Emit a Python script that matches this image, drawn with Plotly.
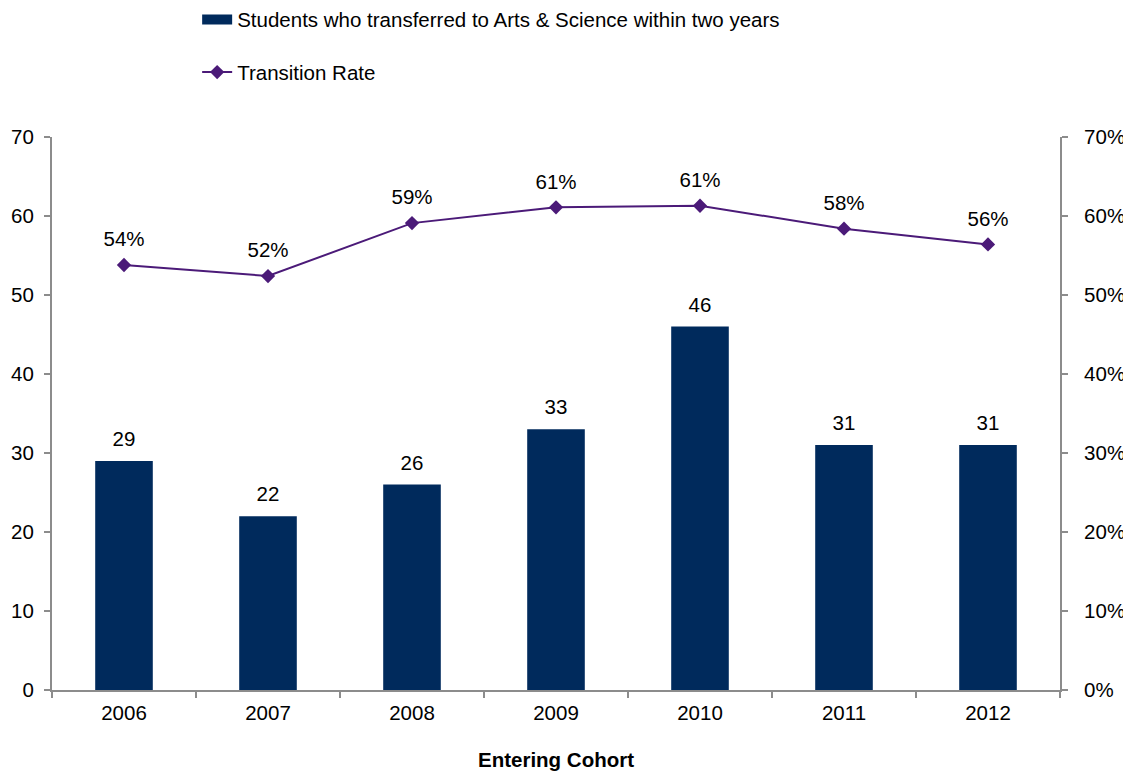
import plotly.graph_objects as go

years = ["2006", "2007", "2008", "2009", "2010", "2011", "2012"]
students = [29, 22, 26, 33, 46, 31, 31]
rate = [0.538, 0.524, 0.591, 0.611, 0.613, 0.584, 0.564]

FONT = "Liberation Sans, Arial, sans-serif"
FS = 20.5
BAR = "#002A5C"
LINE = "#4B1A78"
AX = "#8C8C8C"
BAR_NAME = "Students who transferred to Arts & Science within two years"

fig = go.Figure()
fig.add_trace(go.Bar(
    x=years, y=students, name=BAR_NAME, showlegend=False,
    marker=dict(color=BAR, line=dict(width=0)), width=0.4,
    legendgroup="a", yaxis="y", hoverinfo="x+y"))
# legend swatch (wide bar key, as in the original)
fig.add_trace(go.Scatter(
    x=[None], y=[None], name=BAR_NAME, mode="lines",
    line=dict(color=BAR, width=12), legendgroup="a", yaxis="y"))
fig.add_trace(go.Scatter(
    x=years, y=students, mode="markers+text", showlegend=False,
    marker=dict(size=14, opacity=0),
    text=[str(v) for v in students], textposition="top center",
    textfont=dict(size=FS, color="black", family=FONT), cliponaxis=False,
    hoverinfo="skip", yaxis="y"))
fig.add_trace(go.Scatter(
    x=years, y=rate, name="Transition Rate", mode="lines+markers",
    line=dict(color=LINE, width=2), marker=dict(symbol="diamond", size=11, color=LINE),
    cliponaxis=False, legendgroup="b", yaxis="y2"))
fig.add_trace(go.Scatter(
    x=years, y=rate, mode="markers+text", showlegend=False,
    marker=dict(size=20, opacity=0),
    text=[f"{round(v*100)}%" for v in rate], textposition="top center",
    textfont=dict(size=FS, color="black", family=FONT), cliponaxis=False,
    hoverinfo="skip", yaxis="y2"))

fig.update_layout(
    width=1131, height=774,
    margin=dict(l=44, r=79, t=129, b=92, autoexpand=False),
    paper_bgcolor="white", plot_bgcolor="white",
    font=dict(family=FONT, size=FS, color="black"),
    showlegend=True,
    legend=dict(x=0.144, y=1.2485, xanchor="left", yanchor="top",
                orientation="v", tracegroupgap=23, font=dict(size=FS),
                bgcolor="rgba(0,0,0,0)"),
    xaxis=dict(showline=True, linecolor=AX, linewidth=2, ticks="outside",
               tickson="boundaries", ticklen=6, tickcolor=AX, tickwidth=2,
               showgrid=False, tickfont=dict(size=FS), ticklabelstandoff=3,
               title=dict(text="<b>Entering Cohort</b>", font=dict(size=FS), standoff=30)),
    yaxis=dict(range=[0, 70], dtick=10, showline=True, linecolor=AX, linewidth=2,
               ticks="outside", ticklen=6, tickcolor=AX, tickwidth=2,
               showgrid=False, zeroline=False, tickfont=dict(size=FS), ticklabelstandoff=6),
    yaxis2=dict(range=[0, 0.7], dtick=0.1, tickformat=".0%", overlaying="y", side="right",
                showline=True, linecolor=AX, linewidth=2, ticks="outside", ticklen=6,
                tickcolor=AX, tickwidth=2, showgrid=False, zeroline=False,
                tickfont=dict(size=FS), ticklabelstandoff=12),
)

fig.write_html("out.html")
